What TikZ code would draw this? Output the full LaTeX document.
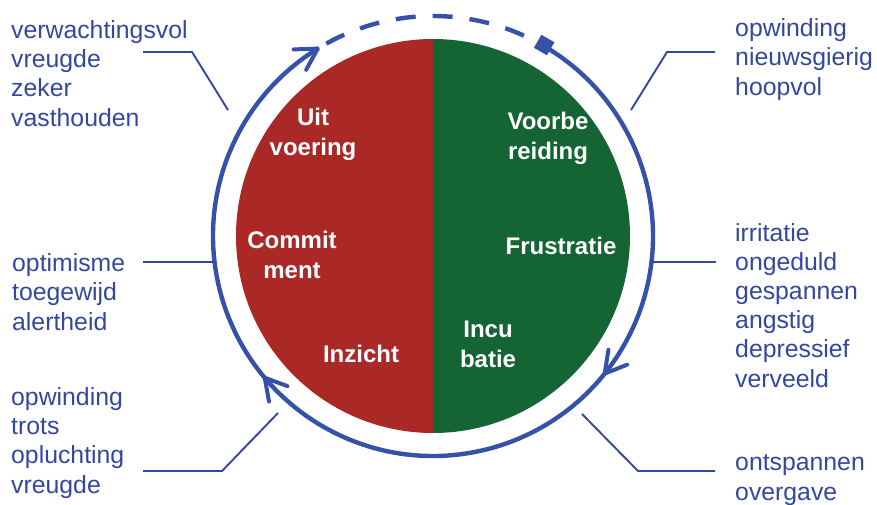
\documentclass[tikz,border=0pt]{standalone}
\usepackage{fontspec}
\setmainfont{Liberation Sans}
\usetikzlibrary{decorations.markings,calc}
\definecolor{ringblue}{RGB}{54,82,168}
\definecolor{txtblue}{RGB}{50,72,160}
\definecolor{cred}{RGB}{170,40,38}
\definecolor{cgreen}{RGB}{20,100,52}
\begin{document}
\begin{tikzpicture}[x=1pt,y=1pt,
  lbl/.style={anchor=base west, inner sep=0pt, align=left, text=txtblue, font=\fontsize{24.8}{29.1}\selectfont},
  inlbl/.style={anchor=base, inner sep=0pt, align=center, text=white, font=\bfseries\fontsize{24}{30}\selectfont},
  conn/.style={draw=txtblue, line width=1.9pt},
  ringline/.style={draw=ringblue, line width=4.4pt},
  barbline/.style={draw=ringblue, line width=4pt, line cap=round, line join=round}]
\useasboundingbox (0,0) rectangle (877,-504);
\coordinate (C) at (433,-236);
% inner disc
\fill[cred] (433,-39) arc[start angle=90, end angle=270, radius=197] -- cycle;
\fill[cgreen] (433,-39) arc[start angle=90, end angle=-90, radius=197] -- cycle;
% ring
\draw[ringline, postaction={decorate}, decoration={markings,
   mark=at position 0.33 with {\draw[barbline] (-21,12) -- (0,0) -- (-21,-12);},
   mark=at position 0.669 with {\draw[barbline] (-21,12) -- (0,0) -- (-21,-12);},
   mark=at position 0.999 with {\draw[barbline] (-21,12) -- (0,0) -- (-21,-12);}}]
   (C) ++(59.8:220) arc[start angle=59.8, end angle=-238.7, radius=220];
\draw[ringline, dash pattern=on 20pt off 17pt] (C) ++(119:220) arc[start angle=119, end angle=65.5, radius=220];
\node (sq) [fill=ringblue, minimum size=15pt, inner sep=0pt, rotate=-30] at ($(C)+(59.8:221)$) {};
% inner labels (anchor = baseline of last line)
\node (uit) [inlbl] at (313,-155) {Uit\\voering};
\node (voor) [inlbl] at (548,-159) {Voorbe\\reiding};
\node (comm) [inlbl] at (292,-278) {Commit\\ment};
\node (frus) [inlbl] at (561,-254) {Frustratie};
\node (incu) [inlbl] at (488,-367) {Incu\\batie};
\node (inz) [inlbl] at (361,-362) {Inzicht};
% outer labels (anchor = baseline of last line)
\node (l1) [lbl] at (11,-126) {verwachtingsvol\\vreugde\\zeker\\vasthouden};
\node (l2) [lbl] at (12,-330) {optimisme\\toegewijd\\alertheid};
\node (l3) [lbl] at (11,-493) {opwinding\\trots\\opluchting\\vreugde};
\node (r1) [lbl] at (735,-95) {opwinding\\nieuwsgierig\\hoopvol};
\node (r2) [lbl] at (735,-387) {irritatie\\ongeduld\\gespannen\\angstig\\depressief\\verveeld};
\node (r3) [lbl] at (735,-500) {ontspannen\\overgave};
% connectors
\coordinate (a1) at (143,-52); \coordinate (a2) at (192,-52); \coordinate (a3) at (228,-110);
\coordinate (b1) at (715,-52); \coordinate (b2) at (667,-52); \coordinate (b3) at (631,-110);
\coordinate (c1) at (143,-262); \coordinate (c2) at (214,-262);
\coordinate (d1) at (716,-262); \coordinate (d2) at (652,-262);
\coordinate (e1) at (143,-471); \coordinate (e2) at (222,-471); \coordinate (e3) at (278,-413);
\coordinate (f1) at (715,-471); \coordinate (f2) at (638,-471); \coordinate (f3) at (582,-414);
\draw[conn] (a1) -- (a2) -- (a3);
\draw[conn] (b1) -- (b2) -- (b3);
\draw[conn] (c1) -- (c2);
\draw[conn] (d1) -- (d2);
\draw[conn] (e1) -- (e2) -- (e3);
\draw[conn] (f1) -- (f2) -- (f3);
\end{tikzpicture}
\end{document}
